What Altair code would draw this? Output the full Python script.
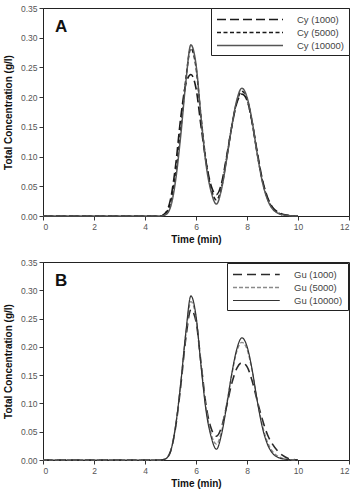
import altair as alt
import pandas as pd

FONT = "Liberation Sans"

# Elution time grid (min)
time_min = [0.0, 4.6, 4.8, 5.0, 5.2, 5.4, 5.6, 5.8, 6.0, 6.2, 6.4, 6.6, 6.8, 7.0,
            7.2, 7.4, 7.6, 7.8, 8.0, 8.2, 8.4, 8.6, 8.8, 9.0, 9.2, 9.4, 9.6, 9.8, 10.0]

# Panel A: Cy series (total concentration, g/l)
cy_names = ["Cy (1000)", "Cy (5000)", "Cy (10000)"]
cy_1000 = [0.0, 0.000, 0.005, 0.028, 0.085, 0.165, 0.222, 0.238, 0.215, 0.150, 0.090, 0.050, 0.036, 0.055,
           0.100, 0.150, 0.190, 0.205, 0.195, 0.158, 0.108, 0.062, 0.032, 0.015, 0.007, 0.003, 0.001, 0.000, 0.000]
cy_5000 = [0.0, 0.000, 0.004, 0.022, 0.070, 0.145, 0.230, 0.282, 0.250, 0.165, 0.090, 0.045, 0.027, 0.048,
           0.097, 0.150, 0.192, 0.210, 0.197, 0.158, 0.105, 0.060, 0.030, 0.013, 0.006, 0.002, 0.001, 0.000, 0.000]
cy_10000 = [0.0, 0.000, 0.002, 0.015, 0.060, 0.135, 0.225, 0.288, 0.255, 0.165, 0.085, 0.040, 0.020, 0.045,
            0.095, 0.150, 0.195, 0.215, 0.200, 0.160, 0.105, 0.058, 0.028, 0.012, 0.005, 0.002, 0.001, 0.000, 0.000]

# Panel B: Gu series (total concentration, g/l)
gu_names = ["Gu (1000)", "Gu (5000)", "Gu (10000)"]
gu_1000 = [0.0, 0.000, 0.002, 0.015, 0.058, 0.130, 0.215, 0.266, 0.245, 0.170, 0.095, 0.055, 0.042, 0.058,
           0.095, 0.135, 0.162, 0.172, 0.165, 0.140, 0.105, 0.072, 0.045, 0.028, 0.016, 0.008, 0.003, 0.001, 0.000]
gu_5000 = [0.0, 0.000, 0.002, 0.015, 0.060, 0.135, 0.222, 0.280, 0.252, 0.168, 0.090, 0.045, 0.028, 0.050,
           0.098, 0.150, 0.192, 0.208, 0.196, 0.158, 0.106, 0.062, 0.032, 0.015, 0.007, 0.003, 0.001, 0.000, 0.000]
gu_10000 = [0.0, 0.000, 0.002, 0.015, 0.060, 0.135, 0.225, 0.290, 0.255, 0.165, 0.085, 0.040, 0.019, 0.045,
            0.095, 0.152, 0.196, 0.216, 0.201, 0.160, 0.105, 0.058, 0.028, 0.012, 0.005, 0.002, 0.001, 0.000, 0.000]

x_ticks = [0, 2, 4, 6, 8, 10, 12]
y_ticks = [0.0, 0.05, 0.10, 0.15, 0.20, 0.25, 0.30, 0.35]


def panel(letter, names, values, colors, dashes, widths, height, symbol_path, label_offset, legend_offset):
    rows = []
    for name, vals in zip(names, values):
        for t, c in zip(time_min, vals):
            rows.append({"time": t, "conc": c, "series": name})
    df = pd.DataFrame(rows)

    legend = alt.Legend(
        title=None,
        orient="top-right",
        offset=legend_offset,
        strokeColor="#222",
        fillColor="white",
        padding=5,
        rowPadding=2,
        symbolType=symbol_path,
        symbolSize=121,
        symbolFillColor="transparent",
        labelOffset=label_offset,
        labelFont=FONT,
        labelFontSize=9.5,
        labelColor="#444",
    )

    lines = alt.Chart(df).mark_line(interpolate="monotone").encode(
        x=alt.X("time:Q", scale=alt.Scale(domain=[0, 12], nice=False),
                axis=alt.Axis(values=x_ticks, format="d", title="Time (min)")),
        y=alt.Y("conc:Q", scale=alt.Scale(domain=[0, 0.35], nice=False),
                axis=alt.Axis(values=y_ticks, format=".2f", title="Total Concentration (g/l)")),
        color=alt.Color("series:N", scale=alt.Scale(domain=names, range=colors), legend=legend),
        strokeDash=alt.StrokeDash("series:N", scale=alt.Scale(domain=names, range=dashes), legend=legend),
        strokeWidth=alt.StrokeWidth("series:N", scale=alt.Scale(domain=names, range=widths), legend=legend),
    )

    tag = alt.Chart(pd.DataFrame({"label": [letter]})).mark_text(
        font=FONT, fontSize=17, fontWeight="bold", align="left", baseline="middle", color="#111"
    ).encode(text="label:N", x=alt.value(12), y=alt.value(19))

    return alt.layer(lines, tag).properties(width=306, height=height)


chart_a = panel(
    "A", cy_names, [cy_1000, cy_5000, cy_10000],
    colors=["#1a1a1a", "#1a1a1a", "#555555"],
    dashes=[[9, 4], [4, 2.5], [1, 0]],
    widths=[1.6, 1.5, 1.0],
    height=208,
    symbol_path="M-1,0H11",
    label_offset=68,
    legend_offset=0,
)

chart_b = panel(
    "B", gu_names, [gu_1000, gu_5000, gu_10000],
    colors=["#2a2a2a", "#8a8a8a", "#333333"],
    dashes=[[9, 5], [4, 2], [1, 0]],
    widths=[1.6, 1.2, 1.0],
    height=198,
    symbol_path="M-1,0H7.5",
    label_offset=49,
    legend_offset=1,
)

chart = alt.vconcat(chart_a, chart_b, spacing=12).resolve_scale(
    color="independent", strokeDash="independent", strokeWidth="independent"
).properties(
    padding={"left": 2, "top": 3, "right": 4, "bottom": 0}
).configure_view(
    stroke="#222", strokeWidth=1
).configure_axis(
    grid=False,
    labelFont=FONT, labelFontSize=8.5, labelColor="#555",
    titleFont=FONT, titleFontSize=10, titleFontWeight="bold", titleColor="#111",
    tickSize=4, tickColor="#333", domainColor="#222",
    labelPadding=2,
).configure_axisY(
    titlePadding=7
).configure_axisX(
    titlePadding=4
)

chart.save("out.html", embed_options={"renderer": "svg", "actions": False})
